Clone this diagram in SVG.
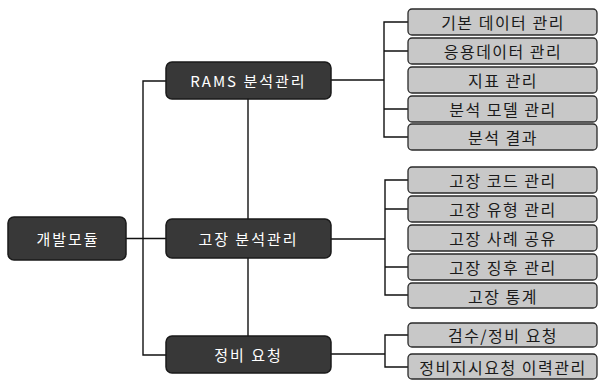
<svg xmlns="http://www.w3.org/2000/svg" width="600" height="381" viewBox="0 0 600 381">
<style>
.dark{fill:#383838;stroke:#1a1a1a;stroke-width:1.5}
.light{fill:#c8c8c8;stroke:#2a2a2a;stroke-width:1.3}
.dt{fill:#ffffff;font-family:"Noto Sans CJK KR","Noto Sans",sans-serif;font-size:15px;letter-spacing:2px;text-anchor:middle;dominant-baseline:central}
.lt{fill:#1a1a1a;font-family:"Noto Sans CJK KR","Noto Sans",sans-serif;font-size:16px;letter-spacing:1.5px;text-anchor:middle;dominant-baseline:central}
.ln{fill:none;stroke:#111;stroke-width:1.4}
</style>
<rect width="600" height="381" fill="#ffffff"/>
<g id="connectors">
<path class="ln" d="M126 238.5H166"/>
<path class="ln" d="M166 81H143V355H166"/>
<path class="ln" d="M248 99V336"/>
<path class="ln" d="M331 80H384"/>
<path class="ln" d="M408 22H384V137H408M384 51H408M384 109H408"/>
<path class="ln" d="M331 239H385"/>
<path class="ln" d="M408 180H385V295H408M385 209H408M385 267H408"/>
<path class="ln" d="M331 354H385"/>
<path class="ln" d="M408 335H385V367H408"/>
</g>
<g id="root"><rect class="dark" x="8" y="217" width="118" height="43" rx="6"/><text class="dt" x="68" y="238.5">개발모듈</text></g>
<g id="rams"><rect class="dark" x="166" y="62" width="165" height="37" rx="6"/><text class="dt" x="248.5" y="80.5">RAMS 분석관리</text></g>
<g id="fault"><rect class="dark" x="166" y="219" width="165" height="39" rx="6"/><text class="dt" x="248.5" y="238.5">고장 분석관리</text></g>
<g id="maint"><rect class="dark" x="166" y="336" width="165" height="37" rx="6"/><text class="dt" x="248.5" y="354.5">정비 요청</text></g>
<g id="r1"><rect class="light" x="408" y="9" width="189" height="26" rx="4"/><text class="lt" x="503" y="22">기본 데이터 관리</text></g>
<g id="r2"><rect class="light" x="408" y="38" width="189" height="26" rx="4"/><text class="lt" x="503" y="51">응용데이터 관리</text></g>
<g id="r3"><rect class="light" x="408" y="67" width="189" height="26" rx="4"/><text class="lt" x="503" y="80">지표 관리</text></g>
<g id="r4"><rect class="light" x="408" y="96" width="189" height="26" rx="4"/><text class="lt" x="503" y="109">분석 모델 관리</text></g>
<g id="r5"><rect class="light" x="408" y="124" width="189" height="26" rx="4"/><text class="lt" x="503" y="137">분석 결과</text></g>
<g id="f1"><rect class="light" x="408" y="167" width="189" height="26" rx="4"/><text class="lt" x="503" y="180">고장 코드 관리</text></g>
<g id="f2"><rect class="light" x="408" y="196" width="189" height="26" rx="4"/><text class="lt" x="503" y="209">고장 유형 관리</text></g>
<g id="f3"><rect class="light" x="408" y="225" width="189" height="26" rx="4"/><text class="lt" x="503" y="238">고장 사례 공유</text></g>
<g id="f4"><rect class="light" x="408" y="254" width="189" height="26" rx="4"/><text class="lt" x="503" y="267">고장 징후 관리</text></g>
<g id="f5"><rect class="light" x="408" y="283" width="189" height="25" rx="4"/><text class="lt" x="503" y="295.5">고장 통계</text></g>
<g id="m1"><rect class="light" x="408" y="323" width="189" height="24" rx="4"/><text class="lt" x="503" y="335">검수/정비 요청</text></g>
<g id="m2"><rect class="light" x="408" y="354" width="189" height="25" rx="4"/><text class="lt" x="503" y="366.5">정비지시요청 이력관리</text></g>
</svg>
